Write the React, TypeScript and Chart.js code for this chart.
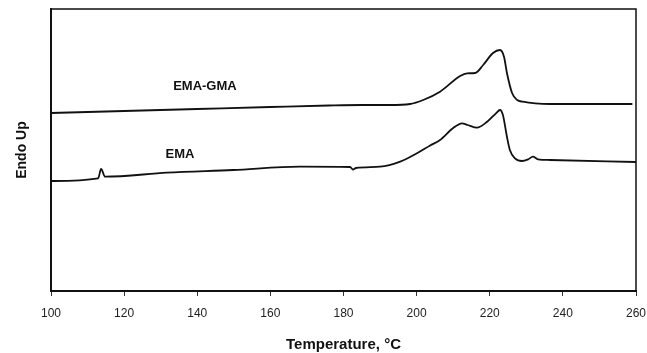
import React, { useEffect, useRef } from "react";
import { Chart, registerables } from "chart.js";

Chart.register(...registerables);

// EMA-GMA trace (temperature in °C, endotherm in arbitrary units)
const gmaTemps = [100, 120, 140, 160, 176, 185, 192.7, 198.2, 201.8, 206.4, 211.9, 213.8, 216, 218.2, 220.9, 222.8, 223.9, 224.7, 226.1, 227.5, 229, 236.5, 259];
const gmaEndo = [17.8, 18.0, 18.2, 18.4, 18.55, 18.6, 18.6, 18.7, 19.1, 19.93, 21.5, 21.77, 21.8, 22.6, 23.8, 24.1, 23.43, 21.8, 19.8, 19.1, 18.93, 18.7, 18.7];

// EMA trace
const emaTemps = [100, 112.9, 113.7, 114.8, 131.7, 149.8, 168.1, 181.8, 182.6, 183.4, 190, 195.5, 200.1, 203.7, 206.4, 210, 212.4, 214, 216.5, 219.3, 221.7, 222.8, 223.6, 224.7, 225.5, 226.9, 228.8, 230.5, 231.8, 233.2, 236.5, 260];
const emaEndo = [11.0, 11.27, 12.2, 11.43, 11.83, 12.1, 12.43, 12.4, 12.15, 12.3, 12.43, 12.93, 13.77, 14.55, 15.1, 16.3, 16.77, 16.6, 16.33, 16.93, 17.77, 18.1, 17.6, 15.43, 14.1, 13.27, 13.0, 13.17, 13.43, 13.17, 13.1, 12.9];

const xTickValues = [100, 120, 140, 160, 180, 200, 220, 240, 260];

// Curve labels: text, temperature, endo value
const labelTexts = ["EMA-GMA", "EMA"];
const labelTemps = [142.1, 135.3];
const labelEndo = [20.5, 13.7];

const FONT = "'Liberation Sans', Arial, Helvetica, sans-serif";

export default function App() {
  const ref = useRef<HTMLCanvasElement | null>(null);

  useEffect(() => {
    if (!ref.current) return;
    const frame = {
      id: "frame",
      afterDatasetsDraw(chart: any) {
        const { ctx, chartArea: a, scales } = chart;
        ctx.save();
        ctx.strokeStyle = "#111";
        ctx.lineWidth = 1.5;
        ctx.beginPath();
        ctx.moveTo(a.left, a.top);
        ctx.lineTo(a.right, a.top);
        ctx.lineTo(a.right, a.bottom);
        ctx.stroke();
        ctx.fillStyle = "#111";
        ctx.font = `bold 13px ${FONT}`;
        ctx.textAlign = "center";
        ctx.textBaseline = "middle";
        labelTexts.forEach((t, i) => {
          ctx.fillText(t, scales.x.getPixelForValue(labelTemps[i]), scales.y.getPixelForValue(labelEndo[i]));
        });
        ctx.restore();
      },
    };
    const chart = new Chart(ref.current, {
      type: "line",
      data: {
        datasets: [
          {
            label: "EMA-GMA",
            data: gmaTemps.map((t, i) => ({ x: t, y: gmaEndo[i] })),
            borderColor: "#111",
            borderWidth: 1.8,
            pointRadius: 0,
            cubicInterpolationMode: "monotone",
          },
          {
            label: "EMA",
            data: emaTemps.map((t, i) => ({ x: t, y: emaEndo[i] })),
            borderColor: "#111",
            borderWidth: 1.8,
            pointRadius: 0,
            cubicInterpolationMode: "monotone",
          },
        ],
      },
      options: {
        animation: false,
        responsive: false,
        layout: { padding: { left: 0, right: 11, top: 9, bottom: 0 } },
        plugins: { legend: { display: false }, tooltip: { enabled: false } },
        scales: {
          x: {
            type: "linear",
            min: 100,
            max: 260,
            afterBuildTicks: (s: any) => {
              s.ticks = xTickValues.map((v) => ({ value: v }));
            },
            afterFit: (s: any) => {
              s.height = 62;
              s.paddingLeft = 0;
              s.paddingRight = 0;
            },
            grid: { display: true, drawOnChartArea: false, drawTicks: true, tickLength: 5, color: "#333" },
            border: { display: true, color: "#111", width: 2 },
            ticks: { color: "#222", font: { family: FONT, size: 12 }, padding: 10, maxRotation: 0 },
            title: {
              display: true,
              text: "Temperature, °C",
              color: "#111",
              font: { family: FONT, size: 15, weight: "bold" },
              padding: { top: 0, bottom: -1 },
            },
          },
          y: {
            min: 0,
            max: 28.2,
            afterFit: (s: any) => {
              s.width = 51;
              s.paddingTop = 0;
              s.paddingBottom = 0;
            },
            grid: { display: false },
            border: { display: true, color: "#111", width: 2 },
            ticks: { display: false },
            title: {
              display: true,
              text: "Endo Up",
              color: "#111",
              font: { family: FONT, size: 14, weight: "bold" },
              padding: { top: 14, bottom: 0 },
            },
          },
        },
      },
      plugins: [frame],
    });
    return () => chart.destroy();
  }, []);

  return (
    <div style={{ position: "fixed", left: 0, top: 0, width: 647, height: 353, background: "#fff" }}>
      <canvas ref={ref} width={647} height={353} />
    </div>
  );
}
